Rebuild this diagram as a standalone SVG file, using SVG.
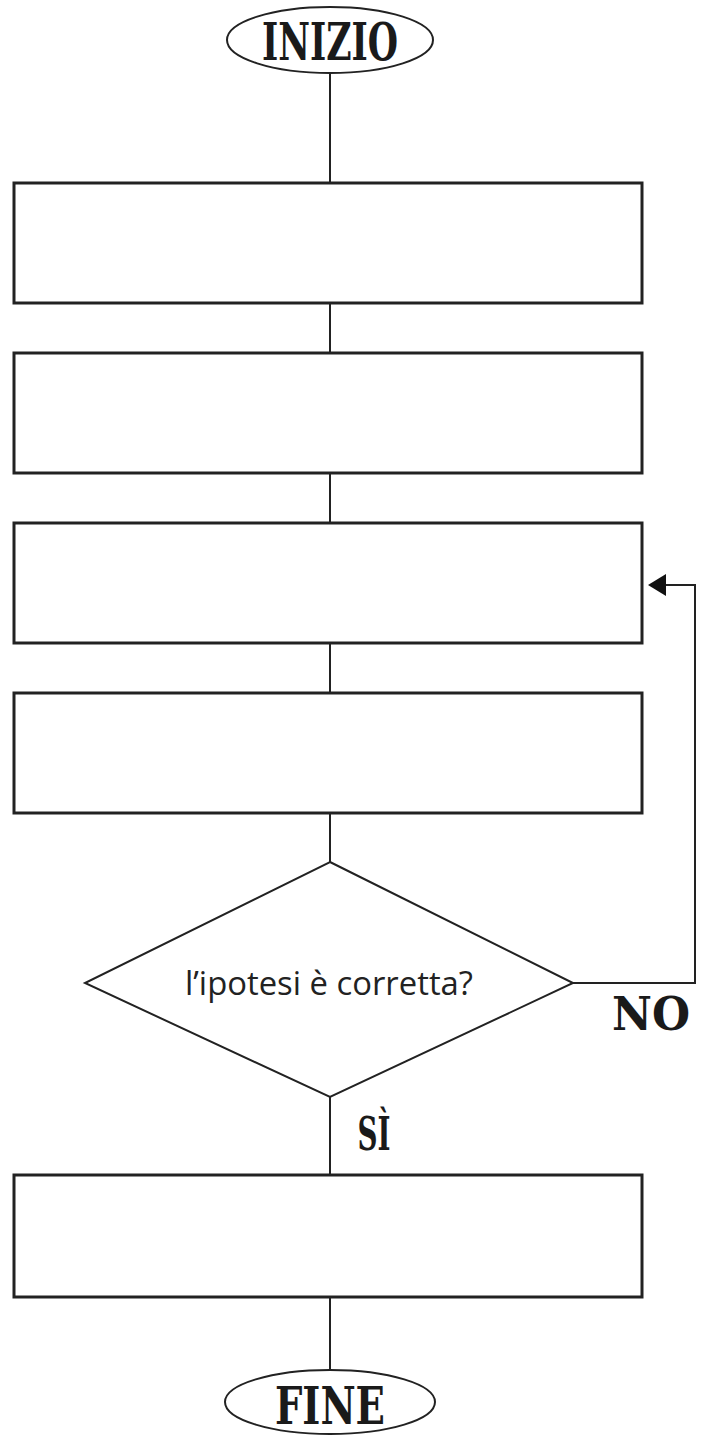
<svg xmlns="http://www.w3.org/2000/svg" width="706" height="1436" viewBox="0 0 706 1436">
<defs>
<style>
.box{fill:#fff;stroke:#222;stroke-width:3}
.term{fill:#fff;stroke:#222;stroke-width:2}
.dia{fill:#fff;stroke:#222;stroke-width:2}
.ln{fill:none;stroke:#222;stroke-width:2}
.slab{font-family:"DejaVu Serif",serif;font-weight:bold;font-stretch:condensed;fill:#1a1a1a}
.q{font-family:"Open Sans","Noto Sans",sans-serif;fill:#222}
</style>
</defs>
<rect width="706" height="1436" fill="#fff"/>
<g id="connectors">
<line class="ln" x1="330" y1="73" x2="330" y2="183"/>
<line class="ln" x1="330" y1="303" x2="330" y2="353"/>
<line class="ln" x1="330" y1="473" x2="330" y2="523"/>
<line class="ln" x1="330" y1="643" x2="330" y2="693"/>
<line class="ln" x1="330" y1="813" x2="330" y2="862"/>
<line class="ln" x1="330" y1="1097" x2="330" y2="1175"/>
<line class="ln" x1="330" y1="1297" x2="330" y2="1370"/>
<polyline class="ln" points="573,983 695,983 695,585 662,585" stroke-width="2.5"/>
<path d="M648,585 L666,574 L666,596 z" fill="#111"/>
</g>
<g id="start">
<ellipse class="term" cx="330" cy="40" rx="103" ry="33"/>
<text class="slab" x="330" y="60" font-size="52" text-anchor="middle" textLength="136" lengthAdjust="spacingAndGlyphs">INIZIO</text>
</g>
<g id="step1"><rect class="box" x="14" y="183" width="628" height="120"/></g>
<g id="step2"><rect class="box" x="14" y="353" width="628" height="120"/></g>
<g id="step3"><rect class="box" x="14" y="523" width="628" height="120"/></g>
<g id="step4"><rect class="box" x="14" y="693" width="628" height="120"/></g>
<g id="decision">
<polygon class="dia" points="330,862 573,983 330,1097 85,983"/>
<text class="q" x="329" y="995" font-size="32" text-anchor="middle" textLength="288" lengthAdjust="spacingAndGlyphs">l’ipotesi è corretta?</text>
</g>
<g id="labels">
<text class="slab" x="651" y="1030" font-size="46" text-anchor="middle" textLength="78" lengthAdjust="spacingAndGlyphs">NO</text>
<text class="slab" x="374" y="1150" font-size="46" text-anchor="middle" textLength="33" lengthAdjust="spacingAndGlyphs">SÌ</text>
</g>
<g id="step5"><rect class="box" x="14" y="1175" width="628" height="122"/></g>
<g id="end">
<ellipse class="term" cx="330" cy="1402" rx="105" ry="32"/>
<text class="slab" x="330" y="1424" font-size="52" text-anchor="middle" textLength="110" lengthAdjust="spacingAndGlyphs">FINE</text>
</g>
</svg>
